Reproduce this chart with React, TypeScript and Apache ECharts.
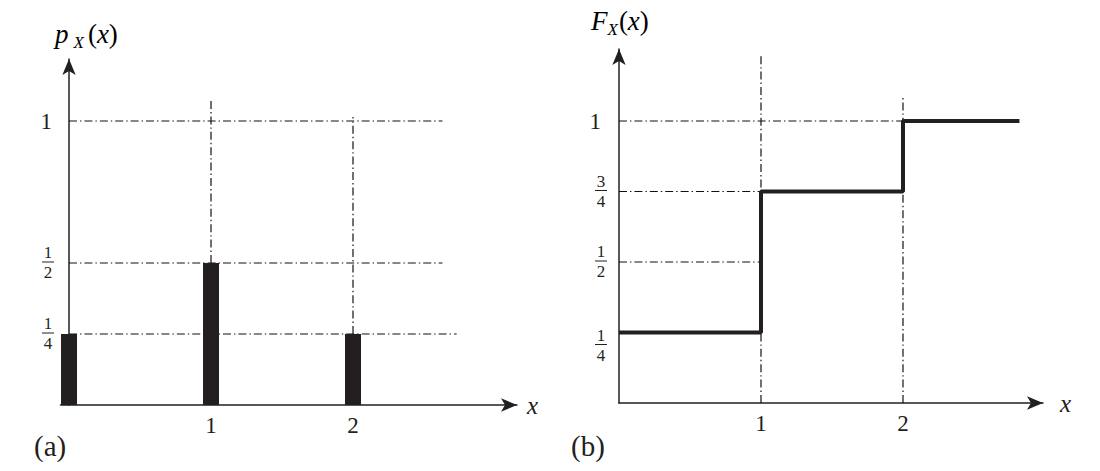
import React, { useEffect, useRef } from "react";
import * as echarts from "echarts";

// (a) probability mass function
const pmfX = [0, 1, 2];
const pmfP = [0.25, 0.5, 0.25];
// (b) cumulative distribution function (step points)
const cdfX = [0, 1, 2, 2.82];
const cdfF = [0.25, 0.75, 1, 1];

// tick labels
const leftYTickValues = [0.25, 0.5, 1];
const leftYTickLabels = ["1/4", "1/2", "1"];
const rightYTickValues = [0.25, 0.5, 0.75, 1];
const rightYTickLabels = ["1/4", "1/2", "3/4", "1"];
const xTickValues = [1, 2];
const xTickLabels = ["1", "2"];

// dash-dot guide lines: horizontal [y, xEnd], vertical [x, yFrom, yTo]
const leftHGuides = [
  [1, 2.63],
  [0.5, 2.63],
  [0.25, 2.73],
];
const leftVGuides = [
  [1, 0.5, 1.08],
  [2, 0.25, 1.014],
];
const rightHGuides = [
  [1, 2],
  [0.75, 1],
  [0.5, 1],
];
const rightVGuides = [
  [1, 0, 1.24],
  [2, 0, 1.09],
];

const INK = "#231f20";
const SERIF = "Liberation Serif";

function fracLabel(lbl: string, shiftDown: boolean) {
  if (lbl.indexOf("/") < 0) return "{one|" + lbl + "}";
  const [a, b] = lbl.split("/");
  return (shiftDown ? "{sp| }\n" : "") + "{n|" + a + "}\n{bar| }\n{d|" + b + "}";
}

const fracRich: any = {
  one: { fontSize: 23, fontFamily: SERIF, color: INK, lineHeight: 24, padding: [0, 2, 0, 0] },
  sp: { fontSize: 2, lineHeight: 26, align: "center" },
  n: { fontSize: 17, fontFamily: SERIF, color: INK, lineHeight: 15, align: "center" },
  bar: { width: 12, height: 1, lineHeight: 4, fontSize: 1, backgroundColor: INK, align: "center" },
  d: { fontSize: 17, fontFamily: SERIF, color: INK, lineHeight: 17, align: "center" },
};

function guideSeries(xAxisIndex: number, yAxisIndex: number, h: number[][], v: number[][]) {
  const out: any[] = [];
  const ls = { type: [8, 3, 1.4, 3], width: 1.2, color: "#111" };
  h.forEach(([y, xe]) => {
    out.push({
      type: "line", xAxisIndex, yAxisIndex, symbol: "none", silent: true, z: 1,
      lineStyle: ls, data: [[0, y], [xe, y]],
    });
  });
  v.forEach(([x, y0, y1]) => {
    out.push({
      type: "line", xAxisIndex, yAxisIndex, symbol: "none", silent: true, z: 1,
      lineStyle: ls, data: [[x, y0], [x, y1]],
    });
  });
  return out;
}

export default function App() {
  const ref = useRef<HTMLDivElement>(null);
  useEffect(() => {
    if (!ref.current) return;
    const chart = echarts.init(ref.current, null, { renderer: "svg" });
    const axisLine = {
      show: true,
      onZero: true,
      symbol: ["none", "arrow"],
      symbolSize: [10, 16],
      lineStyle: { color: INK, width: 1.5 },
    };
    const xAxisCommon = {
      type: "value",
      axisLine,
      axisTick: { show: false },
      splitLine: { show: false },
      nameLocation: "end",
      nameTextStyle: { fontFamily: SERIF, fontStyle: "italic", fontSize: 25, color: INK, verticalAlign: "middle" },
      axisLabel: {
        margin: 9,
        fontFamily: SERIF,
        fontSize: 23,
        color: INK,
        showMinLabel: true,
        showMaxLabel: true,
        formatter: (v: number) => {
          const i = xTickValues.indexOf(v);
          return i >= 0 ? xTickLabels[i] : "";
        },
      },
    };
    const yLabelFormatter = (vals: number[], lbls: string[], shiftQuarter: boolean) => (v: number) => {
      const i = vals.indexOf(v);
      if (i < 0) return "";
      return fracLabel(lbls[i], shiftQuarter && v === 0.25);
    };
    const titleRich = (subPad: number[]) => ({
      i: { fontFamily: SERIF, fontStyle: "italic", fontSize: 27, color: INK, lineHeight: 34, verticalAlign: "middle" },
      n: { fontFamily: SERIF, fontSize: 27, color: INK, lineHeight: 34, verticalAlign: "middle" },
      s: { fontFamily: SERIF, fontStyle: "italic", fontSize: 17, color: INK, lineHeight: 34, verticalAlign: "bottom", padding: subPad },
    });
    const option: any = {
      animation: false,
      backgroundColor: "#fff",
      grid: [
        { left: 60.5, top: 59.1, width: 456.5, height: 345.9 },
        { left: 619, top: 49.1, width: 424, height: 353.9 },
      ],
      xAxis: [
        { ...xAxisCommon, gridIndex: 0, min: -0.06, max: 3.155, name: "x", nameGap: 10 },
        { ...xAxisCommon, gridIndex: 1, min: 0, max: 2.986, name: "x", nameGap: 17 },
      ],
      yAxis: [
        {
          type: "value", gridIndex: 0, min: 0, max: 1.218, interval: 0.25,
          axisLine, axisTick: { show: false }, splitLine: { show: false },
          axisLabel: {
            margin: 6.5, align: "right", showMaxLabel: true,
            formatter: yLabelFormatter(leftYTickValues, leftYTickLabels, false),
            rich: fracRich,
          },
        },
        {
          type: "value", gridIndex: 1, min: 0, max: 1.255, interval: 0.25,
          axisLine, axisTick: { show: false }, splitLine: { show: false },
          axisLabel: {
            margin: 12, align: "right", showMaxLabel: true,
            formatter: yLabelFormatter(rightYTickValues, rightYTickLabels, true),
            rich: { ...fracRich, one: { ...fracRich.one, padding: [0, 6, 0, 0] } },
          },
        },
      ],
      graphic: [
        {
          type: "text", left: 55, top: 20,
          style: { text: "{i|p}{s|X}{n|(}{i|x}{n|)}", rich: titleRich([0, 4, 0, 5]) },
        },
        {
          type: "text", left: 591, top: 7,
          style: { text: "{i|F}{s|X}{n|(}{i|x}{n|)}", rich: titleRich([0, 1, 0, 0]) },
        },
        {
          type: "text", left: 34, top: 431,
          style: { text: "(a)", fontFamily: SERIF, fontSize: 29, fill: INK },
        },
        {
          type: "text", left: 571, top: 431,
          style: { text: "(b)", fontFamily: SERIF, fontSize: 29, fill: INK },
        },
      ],
      series: [
        ...guideSeries(0, 0, leftHGuides, leftVGuides),
        ...guideSeries(1, 1, rightHGuides, rightVGuides),
        {
          type: "bar", xAxisIndex: 0, yAxisIndex: 0, barWidth: 16, clip: false, z: 3,
          itemStyle: { color: INK },
          data: pmfX.map((x, i) => [x, pmfP[i]]),
        },
        {
          type: "line", xAxisIndex: 1, yAxisIndex: 1, step: "end", symbol: "none", z: 3,
          lineStyle: { color: INK, width: 4 },
          data: cdfX.map((x, i) => [x, cdfF[i]]),
        },
      ],
    };
    chart.setOption(option);
    return () => chart.dispose();
  }, []);
  return (
    <div
      ref={ref}
      style={{ position: "fixed", left: 0, top: 0, width: 1100, height: 471, background: "#fff" }}
    />
  );
}
